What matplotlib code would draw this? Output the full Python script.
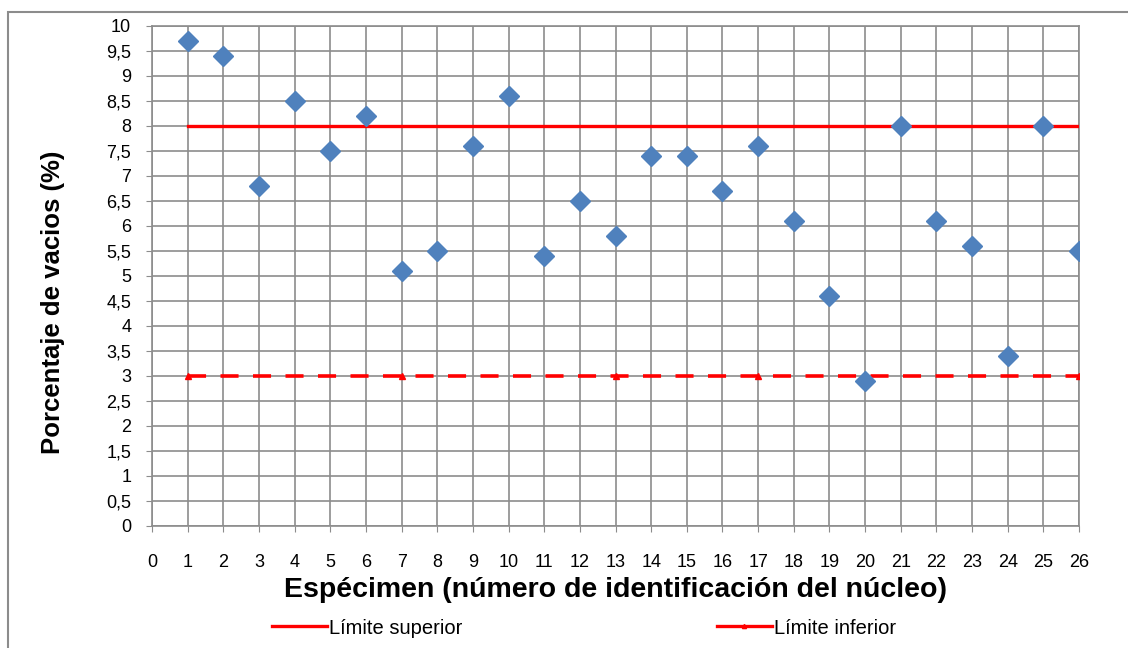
import matplotlib.pyplot as plt
from matplotlib.patches import Rectangle
from matplotlib.lines import Line2D

plt.rcParams['font.family'] = ['Liberation Sans', 'DejaVu Sans']

# datos
especimen = list(range(1, 27))
vacios = [9.7, 9.4, 6.8, 8.5, 7.5, 8.2, 5.1, 5.5, 7.6, 8.6, 5.4, 6.5, 5.8,
          7.4, 7.4, 6.7, 7.6, 6.1, 4.6, 2.9, 8.0, 6.1, 5.6, 3.4, 8.0, 5.5]
lim_sup_x = [1, 26]
lim_sup = [8, 8]
lim_inf_x = [1, 7, 13, 17, 26]
lim_inf = [3, 3, 3, 3, 3]
y_ticks = [i * 0.5 for i in range(21)]
y_labels = [('%g' % v).replace('.', ',') for v in y_ticks]

fig = plt.figure(figsize=(11.28, 6.48), dpi=100)
ax = fig.add_axes([152 / 1128, 1 - 526 / 648, 927 / 1128, 500 / 648])

# marco exterior
fig.patches.append(Rectangle((8 / 1128, -0.01), 1.0, 1 - 12 / 648 + 0.01,
                             transform=fig.transFigure, fill=False,
                             edgecolor='#8c8c8c', linewidth=1.5))

ax.plot(lim_sup_x, lim_sup, color='red', linewidth=2.4, zorder=3)
ax.plot(lim_inf_x, lim_inf, color='red', linewidth=2.6, linestyle=(0, (5, 4)),
        marker='^', markersize=5, zorder=3)
ax.plot(especimen, vacios, linestyle='none', marker='D', markersize=10,
        color='#4F81BD', zorder=4)

ax.set_xlim(0, 26)
ax.set_ylim(0, 10)
ax.set_xticks(range(27))
ax.set_yticks(y_ticks)
ax.set_yticklabels(y_labels)
ax.tick_params(labelsize=13, colors='#000000', length=4, color='#8c8c8c')
ax.tick_params(axis='x', pad=16)
ax.tick_params(axis='y', pad=11)
ax.grid(True, color='#8c8c8c', linewidth=1.2)
ax.set_axisbelow(True)
for s in ax.spines.values():
    s.set_color('#8c8c8c')
    s.set_linewidth(1.2)

ax.set_xlabel('Espécimen (número de identificación del núcleo)', fontsize=20.5,
              fontweight='bold', va='center')
ax.xaxis.set_label_coords(0.5, (526 - 590) / 500)
ax.set_ylabel('Porcentaje de vacios (%)', fontsize=18.5, fontweight='bold', va='center')
ax.yaxis.set_label_coords((53 - 152) / 927, (526 - 302) / 500)

h1 = Line2D([], [], color='red', linewidth=2.4)
h2 = Line2D([], [], color='red', linewidth=2.4, marker='^', markersize=3)
fig.legend([h1], ['Límite superior'], loc='center left',
           bbox_to_anchor=(254 / 1128, 1 - 628 / 648), frameon=False,
           fontsize=14.5, handlelength=2.7, handletextpad=0.1)
fig.legend([h2], ['Límite inferior'], loc='center left',
           bbox_to_anchor=(699 / 1128, 1 - 628 / 648), frameon=False,
           fontsize=14.5, handlelength=2.7, handletextpad=0.1)

fig.savefig('out.png', dpi=100)
